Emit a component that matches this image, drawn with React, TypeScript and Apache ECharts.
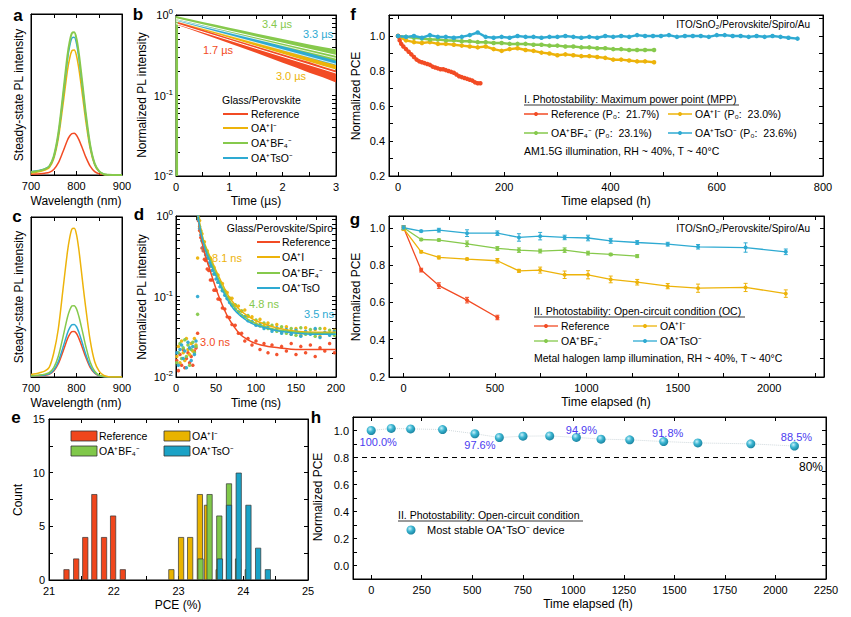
import React, { useEffect, useRef } from 'react';
import * as echarts from 'echarts';

const F = '"Liberation Sans", Arial, Helvetica, sans-serif';
const RED = '#F24B24';
const YEL = '#EDB30A';
const GRN = '#86C94C';
const BLU = '#2EAAD2';
const BAR_RED = '#F0461C';
const BAR_YEL = '#E8B300';
const BAR_GRN = '#80C84A';
const BAR_BLU = '#1BA2C6';
const LAB = '#4B3CF0';

// ---------- a / c : steady-state PL ----------
const wl = [700, 710, 720, 730, 740, 750, 760, 770, 780, 785, 790, 795, 800, 805, 810, 815, 820, 830, 840, 850, 860, 870, 880, 900];
const aRef = [0.005, 0.006, 0.008, 0.011, 0.016, 0.034, 0.075, 0.143, 0.216, 0.242, 0.257, 0.259, 0.247, 0.221, 0.187, 0.151, 0.114, 0.055, 0.021, 0.007, 0.002, 0, 0, 0];
const aI = [0.012, 0.016, 0.021, 0.03, 0.045, 0.101, 0.226, 0.429, 0.647, 0.725, 0.772, 0.776, 0.741, 0.663, 0.562, 0.452, 0.343, 0.164, 0.062, 0.02, 0.005, 0.001, 0, 0];
const aBF = [0.018, 0.022, 0.027, 0.036, 0.053, 0.116, 0.258, 0.49, 0.739, 0.828, 0.881, 0.886, 0.846, 0.757, 0.641, 0.516, 0.392, 0.187, 0.071, 0.022, 0.005, 0.001, 0, 0];
const aTsO = [0.02, 0.025, 0.03, 0.038, 0.055, 0.112, 0.249, 0.473, 0.714, 0.8, 0.851, 0.856, 0.817, 0.731, 0.619, 0.499, 0.378, 0.181, 0.069, 0.022, 0.005, 0.001, 0, 0];
const cRef = [0.005, 0.007, 0.009, 0.011, 0.017, 0.037, 0.083, 0.157, 0.237, 0.266, 0.283, 0.285, 0.272, 0.243, 0.206, 0.166, 0.126, 0.06, 0.023, 0.007, 0.002, 0, 0, 0];
const cI = [0.015, 0.02, 0.028, 0.037, 0.06, 0.15, 0.3, 0.54, 0.78, 0.87, 0.925, 0.929, 0.89, 0.8, 0.68, 0.555, 0.44, 0.23, 0.095, 0.035, 0.01, 0.002, 0, 0];
const cBF = [0.008, 0.01, 0.013, 0.018, 0.027, 0.058, 0.13, 0.246, 0.372, 0.417, 0.444, 0.446, 0.426, 0.381, 0.323, 0.26, 0.197, 0.094, 0.036, 0.011, 0.003, 0, 0, 0];
const cTsO = [0.006, 0.008, 0.01, 0.013, 0.02, 0.043, 0.096, 0.182, 0.274, 0.307, 0.327, 0.328, 0.314, 0.281, 0.238, 0.191, 0.145, 0.069, 0.026, 0.008, 0.002, 0, 0, 0];

// ---------- b : TRPL on glass (µs) ----------
const bTime = [0, 0.25, 0.5, 0.75, 1, 1.25, 1.5, 1.75, 2, 2.25, 2.5, 2.75, 3];
const bRefUp = [0.84, 0.74, 0.655, 0.58, 0.515, 0.46, 0.41, 0.365, 0.325, 0.29, 0.26, 0.23, 0.205];
const bRefLo = [0.76, 0.67, 0.585, 0.51, 0.445, 0.39, 0.34, 0.295, 0.255, 0.222, 0.192, 0.168, 0.145];
const bIUp = [0.89, 0.8, 0.725, 0.66, 0.595, 0.54, 0.49, 0.445, 0.405, 0.365, 0.33, 0.3, 0.275];
const bILo = [0.81, 0.73, 0.65, 0.585, 0.52, 0.465, 0.415, 0.37, 0.33, 0.295, 0.262, 0.235, 0.21];
const bBFUp = [0.97, 0.89, 0.82, 0.755, 0.695, 0.64, 0.59, 0.545, 0.505, 0.465, 0.43, 0.4, 0.375];
const bBFLo = [0.88, 0.81, 0.74, 0.675, 0.61, 0.555, 0.505, 0.455, 0.41, 0.37, 0.335, 0.3, 0.27];
const bTsOUp = [0.92, 0.84, 0.77, 0.7, 0.64, 0.585, 0.54, 0.495, 0.455, 0.415, 0.38, 0.35, 0.32];
const bTsOLo = [0.84, 0.76, 0.69, 0.62, 0.56, 0.505, 0.455, 0.41, 0.365, 0.33, 0.295, 0.265, 0.24];
const bFitTime = [0, 3];
const bFitRef = [0.78, 0.19];
const bFitI = [0.84, 0.245];
const bFitBF = [0.9, 0.315];
const bFitTsO = [0.87, 0.29];
const bRiseTime = [0.015, 0.015];
const bRiseVal = [0.01, 0.95];

// ---------- d : TRPL with Spiro (ns) ----------
const dTime = [1, 3, 5, 7, 9, 11, 13, 15, 17, 19, 21, 23, 25, 27,
  28, 29.5, 31, 32.5, 34, 35.5, 37, 39, 41, 43, 45, 47.5, 50, 52.5, 55, 58, 61, 64, 67, 70, 74, 78, 82, 86, 90, 95,
  100, 105, 110, 115, 120, 126, 132, 138, 144, 150, 156, 162, 168, 174, 180, 186, 192, 198];
const dRef = [0.016, 0.012, 0.019, 0.014, 0.022, 0.013, 0.017, 0.02, 0.015, 0.018, 0.014, 0.021, 0.023, 0.035,
  0.88, 0.66, 0.54, 0.4, 0.37, 0.29, 0.28, 0.22, 0.21, 0.16, 0.16, 0.12, 0.12, 0.093, 0.092, 0.072, 0.07, 0.056, 0.055, 0.045, 0.044, 0.035, 0.035, 0.028, 0.03, 0.025,
  0.028, 0.022, 0.026, 0.02, 0.025, 0.019, 0.024, 0.021, 0.026, 0.019, 0.024, 0.02, 0.025, 0.018, 0.023, 0.021, 0.026, 0.02];
const dI = [0.018, 0.024, 0.015, 0.028, 0.02, 0.016, 0.03, 0.022, 0.019, 0.026, 0.021, 0.03, 0.025, 0.3,
  0.96, 0.88, 0.66, 0.6, 0.47, 0.48, 0.38, 0.37, 0.3, 0.3, 0.24, 0.23, 0.19, 0.185, 0.15, 0.145, 0.118, 0.112, 0.096, 0.095, 0.078, 0.076, 0.066, 0.068, 0.057, 0.056,
  0.046, 0.052, 0.043, 0.047, 0.039, 0.045, 0.036, 0.042, 0.034, 0.04, 0.033, 0.041, 0.035, 0.039, 0.032, 0.04, 0.034, 0.038];
const dBF = [0.015, 0.02, 0.026, 0.017, 0.023, 0.029, 0.018, 0.025, 0.014, 0.022, 0.027, 0.02, 0.024, 0.06,
  0.93, 0.74, 0.64, 0.5, 0.47, 0.38, 0.37, 0.3, 0.3, 0.24, 0.24, 0.19, 0.19, 0.15, 0.15, 0.12, 0.118, 0.095, 0.094, 0.079, 0.079, 0.064, 0.066, 0.056, 0.058, 0.048,
  0.051, 0.043, 0.047, 0.04, 0.044, 0.037, 0.042, 0.035, 0.04, 0.033, 0.041, 0.034, 0.039, 0.032, 0.04, 0.035, 0.038, 0.033];
const dTsO = [0.02, 0.014, 0.022, 0.025, 0.017, 0.021, 0.013, 0.027, 0.023, 0.016, 0.024, 0.019, 0.028, 0.1,
  0.9, 0.7, 0.58, 0.49, 0.41, 0.37, 0.33, 0.3, 0.26, 0.24, 0.21, 0.19, 0.165, 0.15, 0.132, 0.118, 0.104, 0.094, 0.084, 0.078, 0.07, 0.064, 0.058, 0.056, 0.05, 0.049,
  0.044, 0.045, 0.04, 0.043, 0.037, 0.041, 0.035, 0.039, 0.034, 0.038, 0.032, 0.037, 0.034, 0.04, 0.031, 0.036, 0.033, 0.037];
const dFitTime = [27, 28, 30, 32, 35, 38, 42, 46, 50, 55, 60, 66, 72, 80, 90, 100, 115, 130, 150, 175, 200];
const dFitRef = [1.2, 0.88, 0.64, 0.5, 0.37, 0.29, 0.22, 0.165, 0.125, 0.092, 0.07, 0.053, 0.043, 0.034, 0.029, 0.026, 0.024, 0.023, 0.022, 0.022, 0.022];
const dFitI = [1.2, 1.0, 0.78, 0.62, 0.48, 0.4, 0.32, 0.26, 0.21, 0.165, 0.13, 0.1, 0.083, 0.068, 0.057, 0.05, 0.044, 0.04, 0.037, 0.036, 0.036];
const dFitBF = [1.2, 0.95, 0.74, 0.59, 0.46, 0.38, 0.3, 0.24, 0.195, 0.15, 0.118, 0.092, 0.075, 0.062, 0.052, 0.046, 0.041, 0.038, 0.036, 0.035, 0.035];
const dFitTsO = [1.2, 0.92, 0.71, 0.56, 0.43, 0.35, 0.28, 0.22, 0.18, 0.14, 0.11, 0.086, 0.07, 0.058, 0.049, 0.044, 0.04, 0.037, 0.035, 0.034, 0.034];

// ---------- e : PCE histogram ----------
const eRefX = [21.27, 21.42, 21.56, 21.7, 21.85, 21.99, 22.14];
const eRefN = [1, 2, 4, 8, 4, 6, 1];
const eIX = [22.89, 23.04, 23.18, 23.33, 23.44, 23.62];
const eIN = [1, 4, 4, 8, 7, 1];
const eBFX = [23.34, 23.48, 23.63, 23.78, 23.92, 24.07];
const eBFN = [2, 8, 6, 9, 2, 1];
const eTsOX = [23.64, 23.78, 23.93, 24.08, 24.23, 24.38];
const eTsON = [2, 7, 10, 7, 3, 1];

// ---------- f : MPP tracking ----------
const fTimeRef = [0, 3, 6, 10, 15, 20, 25, 30, 35, 40, 45, 50, 55, 60, 65, 70, 75, 80, 85, 90, 95, 100, 105, 110, 115, 120, 125, 130, 135, 140, 145, 150, 155];
const fRef = [1.0, 0.975, 0.955, 0.94, 0.925, 0.91, 0.895, 0.88, 0.865, 0.855, 0.85, 0.845, 0.84, 0.835, 0.825, 0.82, 0.815, 0.81, 0.81, 0.805, 0.8, 0.795, 0.79, 0.78, 0.77, 0.765, 0.76, 0.755, 0.75, 0.745, 0.735, 0.73, 0.73];
const fTime = [0, 15, 30, 45, 60, 75, 90, 105, 120, 135, 150, 165, 180, 195, 210, 225, 240, 255, 270, 285, 300, 315, 330, 345, 360, 375, 390, 405, 420, 435, 450, 465, 482];
const fI = [1.0, 0.975, 0.965, 0.96, 0.965, 0.955, 0.955, 0.95, 0.945, 0.94, 0.935, 0.94, 0.925, 0.915, 0.925, 0.93, 0.92, 0.915, 0.905, 0.9, 0.89, 0.895, 0.89, 0.885, 0.885, 0.88, 0.875, 0.865, 0.865, 0.86, 0.855, 0.855, 0.85];
const fBF = [1.0, 0.995, 0.99, 0.985, 0.98, 0.98, 0.975, 0.975, 0.97, 0.97, 0.965, 0.965, 0.96, 0.96, 0.955, 0.955, 0.955, 0.95, 0.95, 0.945, 0.945, 0.94, 0.94, 0.935, 0.935, 0.93, 0.93, 0.925, 0.925, 0.92, 0.92, 0.92, 0.92];
const fTimeTsO = [0, 15, 30, 45, 60, 75, 90, 105, 120, 135, 150, 165, 180, 195, 210, 225, 240, 255, 270, 285, 300, 315, 330, 345, 360, 375, 390, 405, 420, 435, 450, 465, 480, 495, 510, 525, 540, 555, 570, 585, 600, 615, 630, 645, 660, 675, 690, 705, 720, 735, 752];
const fTsO = [1.0, 0.995, 1.0, 0.99, 1.005, 0.995, 0.995, 0.99, 0.995, 1.005, 1.02, 0.995, 0.99, 0.995, 0.99, 1.0, 0.995, 0.995, 0.99, 0.995, 0.995, 1.0, 0.995, 0.99, 0.995, 0.99, 1.0, 0.995, 1.0, 0.995, 1.005, 1.0, 1.0, 1.0, 1.005, 0.995, 1.0, 1.0, 1.0, 0.995, 1.005, 1.005, 1.0, 1.0, 0.995, 1.0, 0.995, 1.0, 0.995, 0.99, 0.985];

// ---------- g : open-circuit stability ----------
const gTime = [0, 96, 193, 347, 513, 631, 747, 881, 1009, 1133, 1278, 1445, 1611, 1871, 2091];
const gRef = [1.0, 0.773, 0.69, 0.612, 0.519];
const gRefErr = [0.01, 0.01, 0.015, 0.015, 0.012];
const gI = [0.995, 0.871, 0.841, 0.832, 0.823, 0.769, 0.773, 0.748, 0.748, 0.723, 0.708, 0.687, 0.676, 0.68, 0.647];
const gIErr = [0.01, 0.006, 0.008, 0.005, 0.012, 0.008, 0.016, 0.02, 0.022, 0.018, 0.015, 0.014, 0.022, 0.022, 0.02];
const gBF = [1.0, 0.937, 0.934, 0.914, 0.889, 0.88, 0.875, 0.88, 0.864, 0.857, 0.848];
const gBFErr = [0.01, 0.006, 0.006, 0.015, 0.01, 0.012, 0.01, 0.012, 0.01, 0.006, 0.008];
const gTsO = [1.0, 0.982, 0.987, 0.971, 0.971, 0.948, 0.955, 0.948, 0.945, 0.93, 0.921, 0.912, 0.898, 0.894, 0.871];
const gTsOErr = [0.01, 0.005, 0.01, 0.018, 0.012, 0.02, 0.02, 0.012, 0.015, 0.013, 0.01, 0.01, 0.012, 0.025, 0.015];

// ---------- h : most stable device ----------
const hTime = [0, 99, 195, 353, 513, 634, 751, 883, 1015, 1137, 1279, 1447, 1616, 1878, 2094];
const hVal = [1.0, 1.015, 1.012, 1.007, 0.976, 0.948, 0.958, 0.96, 0.949, 0.936, 0.931, 0.918, 0.908, 0.901, 0.885];
const hLabels = ['100.0%', '', '', '', '97.6%', '', '', '', '94.9%', '', '', '91.8%', '', '', '88.5%'];
const hThreshold = 0.8;

// ---------- tick values ----------
const logTicks = [0.01, 0.02, 0.03, 0.04, 0.05, 0.06, 0.07, 0.08, 0.09, 0.1, 0.2, 0.3, 0.4, 0.5, 0.6, 0.7, 0.8, 0.9, 1];
const logLabels = [0.01, 0.1, 1];

const pts = (xs: number[], ys: number[]) => ys.map((y, i) => [xs[i], y]);

const LBL = { color: '#000', fontSize: 11, fontFamily: F };

function axisBase(grid: number, s: any) {
  const base: any = {
    type: s.type || 'value', gridIndex: grid, min: s.min, max: s.max,
    axisLine: { show: true, onZero: false, lineStyle: { color: '#000', width: 1 } },
    splitLine: { show: false },
    axisTick: s.ticks ? { show: true, inside: true, length: 4, customValues: s.ticks, lineStyle: { color: '#000', width: 1 } } : { show: false },
  };
  if (s.type === 'log') base.logBase = 10;
  return base;
}
function xPair(grid: number, s: any) {
  const base = axisBase(grid, s);
  return [
    { ...base, position: 'bottom', axisLabel: s.labels ? { show: true, customValues: s.labels, formatter: s.fmt, margin: s.margin ?? 5, ...LBL } : { show: false } },
    { ...base, position: 'top', axisLabel: { show: false } },
  ];
}
function yPair(grid: number, s: any) {
  const base = axisBase(grid, s);
  return [
    { ...base, position: 'left', axisLabel: s.labels ? { show: true, customValues: s.labels, formatter: s.fmt, margin: s.margin ?? 4, ...LBL, ...(s.rich ? { rich: s.rich } : {}) } : { show: false } },
    { ...base, position: 'right', axisLabel: { show: false } },
  ];
}

const logFmt = (v: number) => '10{s|' + String(Math.round(Math.log10(v))) + '}';
const LOG_RICH = { s: { fontSize: 8, fontFamily: F, color: '#000', verticalAlign: 'top', padding: [0, 0, 7, 0] } };
const f1 = (v: number) => v.toFixed(1);
const f0 = (v: number) => String(Math.round(v));

function txt(x: number, y: number, text: string, o: any = {}) {
  const align = o.align || 'left';
  const valign = o.valign || 'middle';
  return {
    type: 'text', x, y, rotation: o.rot || 0, silent: true, z: 100,
    style: {
      text, fill: o.color || '#000',
      font: `${o.bold ? 'bold ' : ''}${o.size || 11}px ${F}`,
      textAlign: align, textVerticalAlign: valign, align, verticalAlign: valign,
    },
  };
}
function seg(x1: number, y1: number, x2: number, y2: number, color: string, w = 1.5) {
  return { type: 'line', silent: true, z: 100, shape: { x1, y1, x2, y2 }, style: { stroke: color, lineWidth: w } };
}
function dot(cx: number, cy: number, r: number, color: any) {
  return { type: 'circle', silent: true, z: 101, shape: { cx, cy, r }, style: { fill: color } };
}
function box(x: number, y: number, w: number, h: number, color: string) {
  return { type: 'rect', silent: true, z: 100, shape: { x, y, width: w, height: h }, style: { fill: color, stroke: '#333', lineWidth: 0.8 } };
}

const SPHERE = {
  type: 'radial', x: 0.38, y: 0.35, r: 0.7,
  colorStops: [
    { offset: 0, color: '#c9f1fa' },
    { offset: 0.45, color: '#3cb6d2' },
    { offset: 1, color: '#167f9c' },
  ],
};

function lineS(grid: number, data: any[], color: string, extra: any = {}) {
  return {
    type: 'line', xAxisIndex: 2 * grid, yAxisIndex: 2 * grid, data,
    showSymbol: false, lineStyle: { color, width: 1.5 }, itemStyle: { color }, ...extra,
  };
}
function band(grid: number, t: number[], up: number[], lo: number[], color: string, z: number) {
  return {
    type: 'custom', xAxisIndex: 2 * grid, yAxisIndex: 2 * grid, z,
    data: [[t[0], up[0]]], encode: { x: 0, y: 1 },
    renderItem: (_p: any, api: any) => {
      const p: number[][] = [];
      for (let i = 0; i < t.length; i++) p.push(api.coord([t[i], up[i]]));
      for (let i = t.length - 1; i >= 0; i--) p.push(api.coord([t[i], lo[i]]));
      return { type: 'polygon', shape: { points: p }, style: { fill: color } };
    },
  };
}
function errBars(grid: number, t: number[], v: number[], e: number[], color: string) {
  return {
    type: 'custom', xAxisIndex: 2 * grid, yAxisIndex: 2 * grid, z: 3,
    data: v.map((y, i) => [t[i], y, e[i]]), encode: { x: 0, y: 1 },
    renderItem: (_p: any, api: any) => {
      const x = api.value(0), y = api.value(1), er = api.value(2);
      const a = api.coord([x, y + er]);
      const b = api.coord([x, y - er]);
      const w = 2;
      const st = { stroke: color, lineWidth: 1 };
      return {
        type: 'group', children: [
          { type: 'line', shape: { x1: a[0], y1: a[1], x2: b[0], y2: b[1] }, style: st },
          { type: 'line', shape: { x1: a[0] - w, y1: a[1], x2: a[0] + w, y2: a[1] }, style: st },
          { type: 'line', shape: { x1: b[0] - w, y1: b[1], x2: b[0] + w, y2: b[1] }, style: st },
        ],
      };
    },
  };
}
function bars(grid: number, xs: number[], ns: number[], color: string) {
  return {
    type: 'bar', xAxisIndex: 2 * grid, yAxisIndex: 2 * grid, data: pts(xs, ns),
    barWidth: 6, barGap: '-100%', itemStyle: { color, borderColor: '#333', borderWidth: 0.7 },
  };
}

function buildOption() {
  const grids = [
    { left: 31, top: 14, width: 91, height: 161 },
    { left: 176, top: 15, width: 160, height: 161 },
    { left: 31, top: 217, width: 91, height: 160 },
    { left: 176, top: 216, width: 160, height: 161 },
    { left: 49, top: 419, width: 259, height: 161 },
    { left: 389, top: 15, width: 434, height: 161 },
    { left: 389, top: 216, width: 435, height: 161 },
    { left: 353, top: 417, width: 473, height: 162 },
  ].map((g) => ({ ...g, show: true, borderColor: '#000', borderWidth: 1, backgroundColor: 'transparent' }));

  const xAxes = [
    ...xPair(0, { min: 700, max: 900, labels: [700, 800, 900], ticks: [750, 800, 850], fmt: f0 }),
    ...xPair(1, { min: 0, max: 3, labels: [0, 1, 2, 3], ticks: [0.5, 1, 1.5, 2, 2.5], fmt: f0 }),
    ...xPair(2, { min: 700, max: 900, labels: [700, 800, 900], ticks: [750, 800, 850], fmt: f0 }),
    ...xPair(3, { min: 0, max: 200, labels: [0, 50, 100, 150, 200], ticks: [25, 50, 75, 100, 125, 150, 175], fmt: f0 }),
    ...xPair(4, { min: 21, max: 25, labels: [21, 22, 23, 24, 25], ticks: [21.5, 22, 22.5, 23, 23.5, 24, 24.5], fmt: f0 }),
    ...xPair(5, { min: -17, max: 800, labels: [0, 200, 400, 600, 800], ticks: [0, 100, 200, 300, 400, 500, 600, 700], fmt: f0 }),
    ...xPair(6, { min: -80, max: 2300, labels: [0, 500, 1000, 1500, 2000], ticks: [0, 250, 500, 750, 1000, 1250, 1500, 1750, 2000, 2250], fmt: f0 }),
    ...xPair(7, { min: -90, max: 2250, labels: [0, 250, 500, 750, 1000, 1250, 1500, 1750, 2000, 2250], ticks: [0, 250, 500, 750, 1000, 1250, 1500, 1750, 2000], fmt: f0 }),
  ];
  const yAxes = [
    ...yPair(0, { min: 0, max: 1 }),
    ...yPair(1, { type: 'log', min: 0.01, max: 1, labels: logLabels, ticks: logTicks, fmt: logFmt, rich: LOG_RICH, margin: 3 }),
    ...yPair(2, { min: 0, max: 1 }),
    ...yPair(3, { type: 'log', min: 0.01, max: 1, labels: logLabels, ticks: logTicks, fmt: logFmt, rich: LOG_RICH, margin: 3 }),
    ...yPair(4, { min: 0, max: 15, labels: [0, 5, 10, 15], ticks: [2.5, 5, 7.5, 10, 12.5], fmt: f0 }),
    ...yPair(5, { min: 0.2, max: 1.12, labels: [0.2, 0.4, 0.6, 0.8, 1.0], ticks: [0.3, 0.4, 0.5, 0.6, 0.7, 0.8, 0.9, 1.0, 1.1], fmt: f1 }),
    ...yPair(6, { min: 0.2, max: 1.063, labels: [0.2, 0.4, 0.6, 0.8, 1.0], ticks: [0.3, 0.4, 0.5, 0.6, 0.7, 0.8, 0.9, 1.0], fmt: f1 }),
    ...yPair(7, { min: -0.1, max: 1.1, labels: [0, 0.2, 0.4, 0.6, 0.8, 1.0], ticks: [0, 0.1, 0.2, 0.3, 0.4, 0.5, 0.6, 0.7, 0.8, 0.9, 1.0], fmt: f1 }),
  ];

  const series: any[] = [];
  // a
  series.push(lineS(0, pts(wl, aRef), RED, { smooth: 0.3 }));
  series.push(lineS(0, pts(wl, aI), YEL, { smooth: 0.3 }));
  series.push(lineS(0, pts(wl, aTsO), BLU, { smooth: 0.3 }));
  series.push(lineS(0, pts(wl, aBF), GRN, { smooth: 0.3, lineStyle: { color: GRN, width: 2 } }));
  // c
  series.push(lineS(2, pts(wl, cRef), RED, { smooth: 0.3 }));
  series.push(lineS(2, pts(wl, cTsO), BLU, { smooth: 0.3 }));
  series.push(lineS(2, pts(wl, cBF), GRN, { smooth: 0.3 }));
  series.push(lineS(2, pts(wl, cI), YEL, { smooth: 0.3 }));
  // b
  series.push(band(1, bTime, bIUp, bILo, YEL, 2));
  series.push(band(1, bTime, bTsOUp, bTsOLo, BLU, 2));
  series.push(band(1, bTime, bRefUp, bRefLo, RED, 2));
  series.push(band(1, bTime, bBFUp, bBFLo, GRN, 2));
  series.push(lineS(1, pts(bRiseTime, bRiseVal), GRN, { lineStyle: { color: GRN, width: 2.5 } }));
  series.push(lineS(1, pts(bFitTime, bFitRef), '#fff', { z: 4, lineStyle: { color: '#fff', width: 1 } }));
  series.push(lineS(1, pts(bFitTime, bFitI), '#fff', { z: 4, lineStyle: { color: '#fff', width: 0.8 } }));
  series.push(lineS(1, pts(bFitTime, bFitTsO), '#fff', { z: 4, lineStyle: { color: '#fff', width: 0.8 } }));
  series.push(lineS(1, pts(bFitTime, bFitBF), '#fff', { z: 4, lineStyle: { color: '#fff', width: 1 } }));
  // d
  const sc = (data: any[], color: string) => ({
    type: 'scatter', xAxisIndex: 6, yAxisIndex: 6, data, symbolSize: 3.5, itemStyle: { color, opacity: 0.95 }, clip: true,
  });
  series.push(sc(pts(dTime, dRef), RED));
  series.push(sc(pts(dTime, dI), YEL));
  series.push(sc(pts(dTime, dBF), GRN));
  series.push(sc(pts(dTime, dTsO), BLU));
  series.push(lineS(3, pts(dFitTime, dFitRef), RED, { smooth: 0.4, clip: true, z: 5 }));
  series.push(lineS(3, pts(dFitTime, dFitI), YEL, { smooth: 0.4, clip: true, z: 5 }));
  series.push(lineS(3, pts(dFitTime, dFitBF), GRN, { smooth: 0.4, clip: true, z: 5 }));
  series.push(lineS(3, pts(dFitTime, dFitTsO), BLU, { smooth: 0.4, clip: true, z: 5 }));
  // e
  series.push(bars(4, eRefX, eRefN, BAR_RED));
  series.push(bars(4, eIX, eIN, BAR_YEL));
  series.push(bars(4, eBFX, eBFN, BAR_GRN));
  series.push(bars(4, eTsOX, eTsON, BAR_BLU));
  // f
  const mpp = (data: any[], color: string) => lineS(5, data, color, {
    showSymbol: true, showAllSymbol: true, symbol: 'circle', symbolSize: 4.5, lineStyle: { color, width: 2.5 },
  });
  series.push(mpp(pts(fTime, fI), YEL));
  series.push(mpp(pts(fTime, fBF), GRN));
  series.push(mpp(pts(fTimeRef, fRef), RED));
  series.push(mpp(pts(fTimeTsO, fTsO), BLU));
  // g
  const oc = (t: number[], v: number[], color: string) => lineS(6, pts(t, v), color, {
    showSymbol: true, symbol: 'circle', symbolSize: 4, lineStyle: { color, width: 1.3 },
  });
  series.push(errBars(6, gTime, gRef, gRefErr, RED));
  series.push(errBars(6, gTime, gI, gIErr, YEL));
  series.push(errBars(6, gTime, gBF, gBFErr, GRN));
  series.push(errBars(6, gTime, gTsO, gTsOErr, BLU));
  series.push(oc(gTime, gRef, RED));
  series.push(oc(gTime, gI, YEL));
  series.push(oc(gTime, gBF, GRN));
  series.push(oc(gTime, gTsO, BLU));
  // h
  const hPos: Record<number, any> = {
    0: { position: 'bottom', offset: [7, 1] },
    4: { position: 'bottom', offset: [5, 1] },
    8: { position: 'top', offset: [5, 3] },
    11: { position: 'top', offset: [4, 1] },
    14: { position: 'top', offset: [2, 1] },
  };
  series.push({
    type: 'line', xAxisIndex: 14, yAxisIndex: 14,
    data: hVal.map((v, i) => ({
      value: [hTime[i], v],
      label: hLabels[i]
        ? { show: true, formatter: hLabels[i], distance: 0, color: LAB, fontSize: 11, fontFamily: F, ...hPos[i] }
        : { show: false },
    })),
    symbol: 'circle', symbolSize: 9, showSymbol: true,
    itemStyle: { color: SPHERE },
    lineStyle: { color: '#cfd8dc', width: 1, type: 'dotted' },
    markLine: {
      silent: true, symbol: 'none', data: [{ yAxis: hThreshold }],
      lineStyle: { color: '#000', type: [5, 4], width: 1 },
      label: { show: true, formatter: '80%', position: 'insideEndBottom', color: '#000', fontSize: 12, fontFamily: F, distance: 3 },
    },
  });

  const g: any[] = [];
  // panel letters
  const L = { size: 17, bold: true, align: 'center' };
  g.push(txt(18, 15, 'a', L), txt(138, 14, 'b', L), txt(17, 216, 'c', L), txt(139, 214, 'd', L));
  g.push(txt(16, 417, 'e', L), txt(353, 14, 'f', L), txt(355, 219, 'g', L), txt(316, 417, 'h', L));
  // axis titles
  const AT = { size: 12, align: 'center' };
  const V = { ...AT, rot: Math.PI / 2 };
  g.push(txt(19, 95, 'Steady-state PL intensity', V), txt(76, 201, 'Wavelength (nm)', AT));
  g.push(txt(142, 95, 'Normalized PL intensity', V), txt(256, 201, 'Time (µs)', AT));
  g.push(txt(19, 297, 'Steady-state PL intensity', V), txt(76, 403, 'Wavelength (nm)', AT));
  g.push(txt(142, 297, 'Normalized PL intensity', V), txt(256, 403, 'Time (ns)', AT));
  g.push(txt(18, 500, 'Count', V), txt(178, 605, 'PCE (%)', AT));
  g.push(txt(356, 96, 'Normalized PCE', V), txt(606, 201, 'Time elapsed (h)', AT));
  g.push(txt(356, 297, 'Normalized PCE', V), txt(606, 402, 'Time elapsed (h)', AT));
  g.push(txt(318, 497, 'Normalized PCE', V), txt(588, 604, 'Time elapsed (h)', AT));

  // b legend + annotations
  const LS = { size: 10.5 };
  g.push(txt(222, 100, 'Glass/Perovskite', LS));
  const bRows = [114, 128, 143, 158];
  const bNames = ['Reference', 'OA⁺I⁻', 'OA⁺BF₄⁻', 'OA⁺TsO⁻'];
  const cols = [RED, YEL, GRN, BLU];
  bRows.forEach((y, i) => { g.push(seg(223, y, 248, y, cols[i], 2), txt(251, y, bNames[i], LS)); });
  g.push(txt(277, 24, '3.4 µs', { size: 11, color: GRN, align: 'center' }));
  g.push(txt(318, 34, '3.3 µs', { size: 11, color: BLU, align: 'center' }));
  g.push(txt(218, 50, '1.7 µs', { size: 11, color: RED, align: 'center' }));
  g.push(txt(291, 76, '3.0 µs', { size: 11, color: YEL, align: 'center' }));

  // d legend + annotations
  g.push(txt(333, 228, 'Glass/Perovskite/Spiro', { size: 10.5, align: 'right' }));
  const dRows = [242, 257, 273, 288];
  const dNames = ['Reference', 'OA⁺I', 'OA⁺BF₄⁻', 'OA⁺TsO'];
  dRows.forEach((y, i) => { g.push(seg(257, y, 280, y, cols[i], 2), txt(282, y, dNames[i], LS)); });
  g.push(txt(227, 258, '8.1 ns', { size: 11, color: YEL, align: 'center' }));
  g.push(txt(264, 304, '4.8 ns', { size: 11, color: GRN, align: 'center' }));
  g.push(txt(319, 314, '3.5 ns', { size: 11, color: BLU, align: 'center' }));
  g.push(txt(215, 342, '3.0 ns', { size: 11, color: RED, align: 'center' }));

  // e legend
  g.push(box(71, 431, 26, 10, BAR_RED), txt(99, 436, 'Reference', LS));
  g.push(box(164, 431, 26, 10, BAR_YEL), txt(192, 436, 'OA⁺I⁻', LS));
  g.push(box(71, 446, 26, 10, BAR_GRN), txt(99, 451, 'OA⁺BF₄⁻', LS));
  g.push(box(164, 446, 26, 10, BAR_BLU), txt(192, 451, 'OA⁺TsO⁻', LS));

  // f legend
  g.push(txt(810, 24, 'ITO/SnO₂/Perovskite/Spiro/Au', { size: 10, align: 'right' }));
  g.push(txt(524, 99, 'I. Photostability: Maximum power point (MPP)', LS), seg(524, 105, 739, 105, '#000', 0.8));
  const fl = (x: number, y: number, c: string, s: string) => { g.push(seg(x, y, x + 24, y, c, 1.5), dot(x + 12, y, 2, c), txt(x + 27, y, s, LS)); };
  fl(524, 114, RED, 'Reference (P₀:  21.7%)');
  fl(668, 114, YEL, 'OA⁺I⁻ (P₀:  23.0%)');
  fl(524, 133, GRN, 'OA⁺BF₄⁻ (P₀:  23.1%)');
  fl(668, 133, BLU, 'OA⁺TsO⁻ (P₀:  23.6%)');
  g.push(txt(524, 151, 'AM1.5G illumination, RH ~ 40%, T ~ 40°C', LS));

  // g legend
  g.push(txt(810, 228, 'ITO/SnO₂/Perovskite/Spiro/Au', { size: 10, align: 'right' }));
  g.push(txt(534, 311, 'II. Photostability: Open-circuit condition (OC)', LS), seg(534, 317, 745, 317, '#000', 0.8));
  const gl = (x: number, y: number, c: string, s: string) => { g.push(seg(x, y, x + 24, y, c, 1.3), dot(x + 12, y, 2, c), txt(x + 27, y, s, LS)); };
  gl(534, 326, RED, 'Reference');
  gl(633, 326, YEL, 'OA⁺I⁻');
  gl(534, 341, GRN, 'OA⁺BF₄⁻');
  gl(633, 341, BLU, 'OA⁺TsO⁻');
  g.push(txt(534, 358, 'Metal halogen lamp illumination, RH ~ 40%, T ~ 40°C', LS));

  // h legend
  g.push(txt(398, 515, 'II. Photostability: Open-circuit condition', LS), seg(398, 521, 583, 521, '#000', 0.8));
  g.push(dot(411, 530, 4.5, SPHERE), txt(427, 530, 'Most stable OA⁺TsO⁻ device', { size: 11 }));

  return {
    animation: false,
    textStyle: { fontFamily: F },
    grid: grids,
    xAxis: xAxes,
    yAxis: yAxes,
    series,
    graphic: { elements: g },
  };
}

export default function App() {
  const ref = useRef<HTMLDivElement>(null);
  useEffect(() => {
    if (!ref.current) return;
    const chart = echarts.init(ref.current, undefined, { renderer: 'svg' });
    chart.setOption(buildOption() as any);
    return () => chart.dispose();
  }, []);
  return <div ref={ref} style={{ position: 'fixed', left: 0, top: 0, width: 851, height: 617, background: '#fff' }} />;
}
